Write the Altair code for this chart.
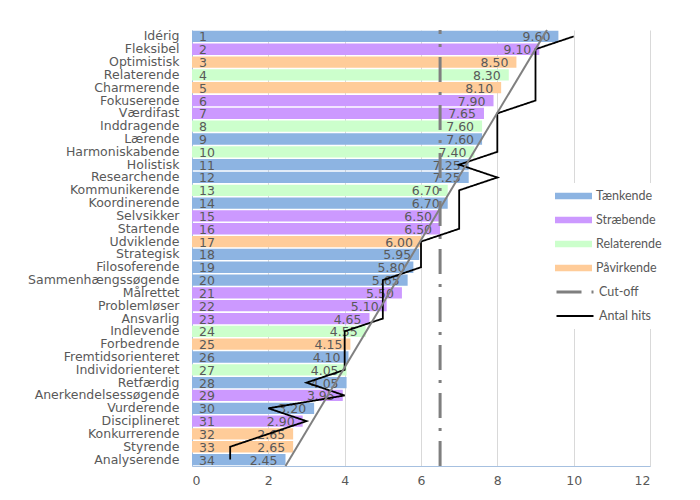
import altair as alt
import pandas as pd

# ---- data ----
names = ["Idérig", "Fleksibel", "Optimistisk", "Relaterende", "Charmerende", "Fokuserende",
         "Værdifast", "Inddragende", "Lærende", "Harmoniskabende", "Holistisk", "Researchende",
         "Kommunikerende", "Koordinerende", "Selvsikker", "Startende", "Udviklende", "Strategisk",
         "Filosoferende", "Sammenhængssøgende", "Målrettet", "Problemløser", "Ansvarlig",
         "Indlevende", "Forbedrende", "Fremtidsorienteret", "Individorienteret", "Retfærdig",
         "Anerkendelsessøgende", "Vurderende", "Disciplineret", "Konkurrerende", "Styrende",
         "Analyserende"]
values = [9.60, 9.10, 8.50, 8.30, 8.10, 7.90, 7.65, 7.60, 7.60, 7.40, 7.25, 7.25, 6.70, 6.70,
          6.50, 6.50, 6.00, 5.95, 5.80, 5.65, 5.50, 5.10, 4.65, 4.55, 4.15, 4.10, 4.05, 4.05,
          3.95, 3.20, 2.90, 2.65, 2.65, 2.45]
groups = ["Tænkende", "Stræbende", "Påvirkende", "Relaterende", "Påvirkende", "Stræbende",
          "Stræbende", "Relaterende", "Tænkende", "Relaterende", "Tænkende", "Tænkende",
          "Relaterende", "Tænkende", "Stræbende", "Stræbende", "Påvirkende", "Tænkende",
          "Tænkende", "Tænkende", "Stræbende", "Stræbende", "Stræbende", "Relaterende",
          "Påvirkende", "Tænkende", "Relaterende", "Tænkende", "Stræbende", "Tænkende",
          "Stræbende", "Påvirkende", "Påvirkende", "Tænkende"]
hits = [10, 9, 9, 9, 9, 9, 8, 8, 8, 8, 7, 8, 7, 7, 7, 7, 6, 6, 6, 5, 5, 5, 5, 4, 4, 4, 4,
        3, 4, 2, 3, 2, 1, 1]
cutoff = 6.5
trend_pos = [0, 1]          # bottom edge, top edge of the plot
trend_val = [2.45, 9.3]

group_order = ["Tænkende", "Stræbende", "Relaterende", "Påvirkende"]
group_colors = ["#8DB4E2", "#CC99FF", "#CCFFCC", "#FFCC99"]
line_series = ["Cut-off", "Antal hits"]

df = pd.DataFrame({
    "name": names,
    "rank": list(range(1, len(names) + 1)),
    "value": values,
    "group": groups,
    "hits": hits,
})
df["series"] = "Antal hits"
cut_df = pd.DataFrame({"cut": [cutoff], "series": ["Cut-off"]})
trend_df = pd.DataFrame({"t": trend_pos, "v": trend_val})

TXT = "#595959"
FONT = "DejaVu Sans"

y_enc = alt.Y("name:N", sort=names, title=None,
              scale=alt.Scale(paddingInner=0.12, paddingOuter=0.06),
              axis=alt.Axis(labelFont=FONT, labelFontSize=12.5, labelColor=TXT,
                            ticks=False, labelPadding=13, domainColor="#A6C0E0",
                            minExtent=179, maxExtent=179, grid=False))

x_scale = alt.Scale(domain=[0, 12])
x_axis = alt.Axis(values=[0, 2, 4, 6, 8, 10, 12], labelFont=FONT, labelFontSize=12.5,
                  labelColor=TXT, ticks=False, labelPadding=8, domainColor="#A6C0E0",
                  gridColor="#D9D9D9", title=None)

base = alt.Chart(df)

bars = base.mark_bar().encode(
    x=alt.X("value:Q", scale=x_scale, axis=x_axis),
    y=y_enc,
    color=alt.Color("group:N",
                    scale=alt.Scale(domain=group_order, range=group_colors),
                    legend=alt.Legend(title=None, orient="none", legendX=357, legendY=153,
                                      symbolType="M-1,-0.17H1V0.17H-1Z", symbolSize=1369,
                                      symbolStrokeWidth=0, clipHeight=14, rowPadding=10,
                                      labelFont="Lato", labelFontSize=12.5, labelColor=TXT,
                                      labelOffset=4, padding=6, fillColor="white")),
)

rank_text = base.mark_text(align="left", baseline="middle", dx=7, dy=1, font=FONT,
                           fontSize=12.5, color=TXT).encode(
    x=alt.datum(0),
    y=alt.Y("name:N", sort=names),
    text="rank:Q",
)

value_text = base.mark_text(align="right", baseline="middle", dx=-8, dy=1, font=FONT,
                            fontSize=12.5, color=TXT).encode(
    x="value:Q",
    y=alt.Y("name:N", sort=names),
    text=alt.Text("value:Q", format=".2f"),
)

line_legend = alt.Legend(title=None, orient="none", legendX=357, legendY=249,
                         symbolType="stroke", symbolSize=1369, clipHeight=14, rowPadding=10,
                         labelFont="Lato", labelFontSize=12.5, labelColor=TXT,
                         labelOffset=4, padding=6, fillColor="white")
stroke_scale = alt.Scale(domain=line_series, range=["#7F7F7F", "#000000"])
dash_scale = alt.Scale(domain=line_series, range=[[25, 10, 3, 10], [1, 0]])
width_scale = alt.Scale(domain=line_series, range=[3, 1.8])

cut_rule = alt.Chart(cut_df).mark_rule(strokeDashOffset=21).encode(
    x="cut:Q",
    stroke=alt.Stroke("series:N", scale=stroke_scale, legend=line_legend),
    strokeDash=alt.StrokeDash("series:N", scale=dash_scale, legend=line_legend),
    strokeWidth=alt.StrokeWidth("series:N", scale=width_scale, legend=line_legend),
)

hits_line = base.mark_line().encode(
    x="hits:Q",
    y=alt.Y("name:N", sort=names),
    order="rank:Q",
    stroke=alt.Stroke("series:N", scale=stroke_scale, legend=line_legend),
    strokeDash=alt.StrokeDash("series:N", scale=dash_scale, legend=line_legend),
    strokeWidth=alt.StrokeWidth("series:N", scale=width_scale, legend=line_legend),
)

trend = alt.Chart(trend_df).mark_line(color="#808080", strokeWidth=2).encode(
    x="v:Q",
    y=alt.Y("t:Q", scale=alt.Scale(domain=[0, 1]), axis=None),
)

main = alt.layer(bars, rank_text, value_text, cut_rule, hits_line)

chart = alt.layer(main, trend).resolve_scale(y="independent").properties(
    width=458, height=436,
    padding={"left": 5, "top": 18, "right": 5, "bottom": 5},
).configure_view(stroke=None).configure_axis(grid=True)

chart.save("out.html", embed_options={"renderer": "svg", "actions": False})
